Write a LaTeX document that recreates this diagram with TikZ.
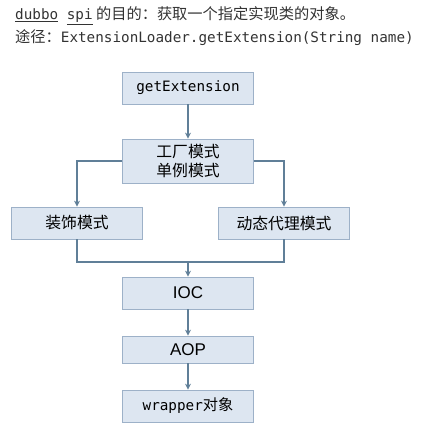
\documentclass[tikz,border=0pt]{standalone}
\usepackage{fontspec}
\setmainfont{Noto Sans CJK SC}
\setmonofont{DejaVu Sans Mono}
\newfontfamily\latinsans{Liberation Sans}
\usepackage{tikz}
\usetikzlibrary{arrows.meta, positioning}

\definecolor{boxfill}{HTML}{DDE6F1}
\definecolor{boxline}{HTML}{9DB1C8}
\definecolor{flowline}{HTML}{607F98}
\newcommand{\codefont}{\ttfamily\fontsize{12.2}{15}\selectfont}

\begin{document}
\begin{tikzpicture}[x=0.03cm, y=-0.03cm, font=\fontsize{13}{15}\selectfont,
    box/.style={draw=boxline, fill=boxfill, line width=0.8pt, minimum width=3.93cm, minimum height=0.96cm, inner sep=0pt, align=center},
    flow/.style={draw=flowline, line width=0.9pt, -{Stealth[length=5pt, width=5pt]}}]
    \useasboundingbox (0,0) rectangle (420,432);
    % title lines
    \node[anchor=west, inner sep=0pt, text=black!80] (title) at (15,16)
        {{\codefont\underline{dubbo} \underline{spi}} 的目的：获取一个指定实现类的对象。};
    \node[anchor=west, inner sep=0pt, text=black!80] (route) at (15,38)
        {途径：{\codefont ExtensionLoader.getExtension(String name)}};
    % flow boxes
    \node[box] (getext) at (188,88) {{\codefont getExtension}};
    \node[box, minimum height=1.32cm, font=\fontsize{13.5}{16}\selectfont] (factory) at (188,161) {工厂模式\\单例模式};
    \node[box, font=\fontsize{13.5}{16}\selectfont] (deco) at (77,223) {装饰模式};
    \node[box, font=\fontsize{13.5}{16}\selectfont] (proxy) at (284,223) {动态代理模式};
    \node[box, font=\latinsans\fontsize{14.5}{16}\selectfont] (ioc) at (188,293) {IOC};
    \node[box, minimum height=0.81cm, font=\latinsans\fontsize{14.5}{16}\selectfont] (aop) at (188,349.5) {AOP};
    \node[box] (wrapper) at (188,406) {{\codefont wrapper}对象};
    \coordinate (join) at (188,262);
    % connectors
    \draw[flow] (getext) -- (factory);
    \draw[flow] (factory.west) -| (deco.north);
    \draw[flow] (factory.east) -| (proxy.north);
    \draw[draw=flowline, line width=0.9pt] (deco.south) |- (join) -| (proxy.south);
    \draw[flow] (join) -- (ioc.north);
    \draw[flow] (ioc) -- (aop);
    \draw[flow] (aop) -- (wrapper);
\end{tikzpicture}
\end{document}
